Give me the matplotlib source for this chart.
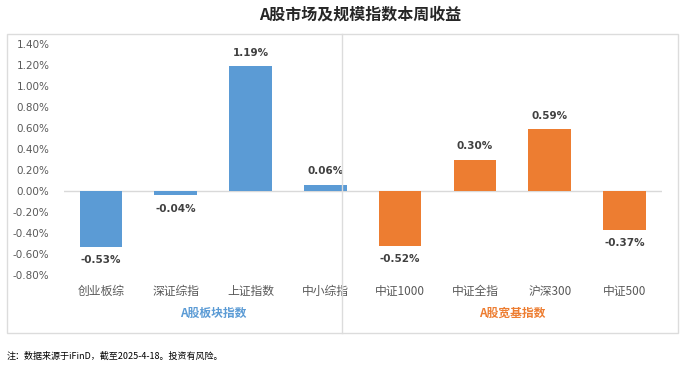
import matplotlib
matplotlib.use("Agg")
import matplotlib.pyplot as plt
from matplotlib.patches import Rectangle
from matplotlib.lines import Line2D

plt.rcParams['font.family'] = ['Noto Sans CJK SC', 'DejaVu Sans']

categories = ["创业板综", "深证综指", "上证指数", "中小综指", "中证1000", "中证全指", "沪深300", "中证500"]
values = [-0.53, -0.04, 1.19, 0.06, -0.52, 0.30, 0.59, -0.37]
groups = ["A股板块指数", "A股宽基指数"]
group_sizes = [4, 4]
yticks = [-0.8, -0.6, -0.4, -0.2, 0.0, 0.2, 0.4, 0.6, 0.8, 1.0, 1.2, 1.4]

blue = "#5B9BD5"
orange = "#ED7D31"
colors = [blue] * group_sizes[0] + [orange] * group_sizes[1]
group_colors = [blue, orange]

W, H = 687, 368
fig = plt.figure(figsize=(W / 100, H / 100), dpi=100)

# outer chart box
fig.patches.append(Rectangle((7 / W, 1 - 333 / H), (678 - 7) / W, (333 - 34) / H,
                             transform=fig.transFigure, fill=False,
                             edgecolor="#dcdcdc", linewidth=1.0))
# divider line
fig.lines.append(Line2D([342 / W, 342 / W], [1 - 333 / H, 1 - 34 / H],
                        transform=fig.transFigure, color="#dcdcdc", linewidth=1.0))

ax = fig.add_axes([63.5 / W, 1 - 275 / H, (662 - 63.5) / W, (275 - 44) / H])
x = list(range(len(categories)))
ax.bar(x, values, width=0.57, color=colors, zorder=3)
ax.axhline(0, color="#d9d9d9", linewidth=1.0, zorder=2)
ax.set_xlim(-0.5, len(categories) - 0.5)
ax.set_ylim(-0.8, 1.4)
ax.set_yticks(yticks)
ax.set_yticklabels([f"{v:.2f}%" for v in yticks], fontsize=7.5, color="#595959",
                   family=['DejaVu Sans'])
ax.tick_params(axis='y', length=0, pad=10)
ax.set_xticks([])
for s in ax.spines.values():
    s.set_visible(False)
ax.patch.set_alpha(0)

for xi, v in zip(x, values):
    if v >= 0:
        ax.annotate(f"{v:.2f}%", (xi, v), xytext=(0, 6), textcoords="offset points",
                    ha="center", va="bottom", fontsize=7.5, fontweight="bold",
                    color="#404040", family=['DejaVu Sans'])
    else:
        ax.annotate(f"{v:.2f}%", (xi, v), xytext=(0, -6), textcoords="offset points",
                    ha="center", va="top", fontsize=7.5, fontweight="bold",
                    color="#404040", family=['DejaVu Sans'])

# category labels
for xi, c in zip(x, categories):
    ax.annotate(c, (xi, 0), xycoords=("data", "figure fraction"),
                xytext=(xi, 1 - 291 / H), textcoords=("data", "figure fraction"),
                ha="center", va="center", fontsize=8.5, color="#595959")

# group labels
start = 0
for g, n, gc in zip(groups, group_sizes, group_colors):
    center = start + (n - 1) / 2
    ax.annotate(g, (center, 0), xycoords=("data", "figure fraction"),
                xytext=(center, 1 - 313 / H), textcoords=("data", "figure fraction"),
                ha="center", va="center", fontsize=8.5, color=gc, fontweight="bold")
    start += n

fig.text(360 / W, 1 - 15 / H, "A股市场及规模指数本周收益", ha="center", va="center",
         fontsize=11.5, fontweight="bold", color="#262626")
fig.text(7 / W, 1 - 356 / H, "注：数据来源于iFinD，截至2025-4-18。投资有风险。",
         ha="left", va="center", fontsize=6.5, color="#000000")

fig.savefig("out.png", dpi=100)
